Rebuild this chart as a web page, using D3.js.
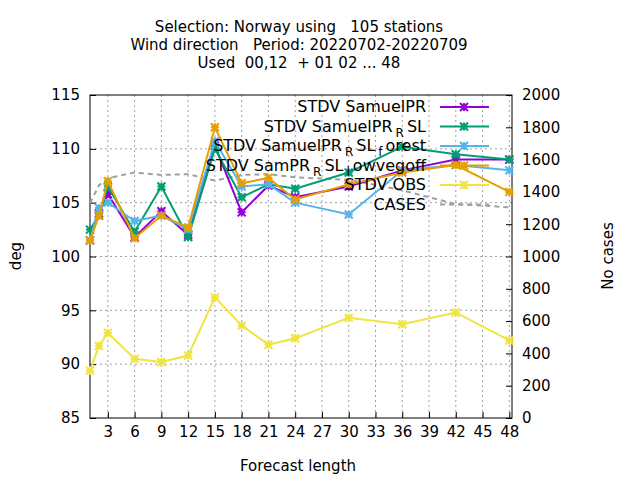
<!DOCTYPE html>
<html><head><meta charset="utf-8">
<script src="https://cdn.jsdelivr.net/npm/d3@7"></script>
<style>body{margin:0;background:#fff}text{font-family:"DejaVu Sans",sans-serif}</style>
</head><body><svg id="c" width="640" height="480"></svg>
<script>
const steps = [1, 2, 3, 6, 9, 12, 15, 18, 21, 24, 30, 36, 42, 48];
const samuelPR = [101.5, 104, 105.8, 101.8, 104.2, 102, 110.3, 104.1, 106.6, 105.5, 106.5, 108, 109, 109];
const samuelPRRSL = [102.5, 103.8, 106.5, 102.3, 106.5, 101.8, 110, 105.5, 106.7, 106.3, 107.8, 110.2, 109.5, 109];
const samuelPRRSLforest = [101.5, 104.5, 105, 103.3, 103.8, 102.5, 110.7, 106.5, 106.7, 105, 103.9, 108, 108.5, 108];
const samPRRSLlowvegoff = [101.5, 103.8, 107, 101.7, 103.8, 102.7, 112, 106.8, 107.3, 105.3, 106.7, 107.8, 108.5, 106];
const obs = [89.4, 91.7, 92.9, 90.5, 90.2, 90.8, 96.2, 93.6, 91.8, 92.4, 94.3, 93.7, 94.8, 92.2];
const cases = [1330, 1440, 1485, 1520, 1505, 1510, 1470, 1505, 1510, 1490, 1475, 1410, 1325, 1305];
const xTicks = [3, 6, 9, 12, 15, 18, 21, 24, 27, 30, 33, 36, 39, 42, 45, 48];

const svg = d3.select("#c");
const L = 90, R = 512, T = 95, B = 418;
const x = d3.scaleLinear().domain([1, 48.3]).range([L, R]);
const y = d3.scaleLinear().domain([85, 115]).range([B, T]);
const y2 = d3.scaleLinear().domain([0, 2000]).range([B, T]);

// grid
const grid = svg.append("g").attr("stroke", "#a0a0a0").attr("stroke-dasharray", "2,3").attr("stroke-width", 1);
xTicks.forEach(t => grid.append("line").attr("x1", x(t)).attr("x2", x(t)).attr("y1", T).attr("y2", B));
d3.range(90, 115, 5).forEach(t => grid.append("line").attr("x1", L).attr("x2", R).attr("y1", y(t)).attr("y2", y(t)));

const fs = 15;
svg.append("g").attr("transform", `translate(0,${B})`)
  .call(d3.axisBottom(x).tickValues(xTicks).tickSize(-6).tickPadding(8))
  .call(g => { g.select(".domain").remove(); g.selectAll("text").attr("font-size", fs).attr("fill", "#000"); });
svg.append("g").attr("transform", `translate(${L},0)`)
  .call(d3.axisLeft(y).ticks(6).tickSize(-6).tickPadding(10))
  .call(g => { g.select(".domain").remove(); g.selectAll("text").attr("font-size", fs).attr("fill", "#000"); });
svg.append("g").attr("transform", `translate(${R},0)`)
  .call(d3.axisRight(y2).ticks(10, "d").tickSize(-6).tickPadding(10))
  .call(g => { g.select(".domain").remove(); g.selectAll("text").attr("font-size", fs).attr("fill", "#000"); });
svg.append("rect").attr("x", L).attr("y", T).attr("width", R - L).attr("height", B - T)
  .attr("fill", "none").attr("stroke", "#000");

// cases
svg.append("path").datum(cases)
  .attr("d", d3.line().x((d, i) => x(steps[i])).y(d => y2(d)))
  .attr("fill", "none").attr("stroke", "#a0a0a0").attr("stroke-width", 2).attr("stroke-dasharray", "5,4");

const series = [
  { v: samuelPR, c: "#9400d3" },
  { v: samuelPRRSL, c: "#009e73" },
  { v: samuelPRRSLforest, c: "#56b4e9" },
  { v: samPRRSLlowvegoff, c: "#e69f00" },
  { v: obs, c: "#f0e442" }
];
function star(g, cx, cy, c) {
  const s = 4;
  g.append("path").attr("d", `M${cx-s},${cy}H${cx+s}M${cx},${cy-s}V${cy+s}M${cx-s},${cy-s}L${cx+s},${cy+s}M${cx-s},${cy+s}L${cx+s},${cy-s}`)
    .attr("stroke", c).attr("stroke-width", 2);
}
series.forEach(s => {
  svg.append("path").datum(s.v)
    .attr("d", d3.line().x((d, i) => x(steps[i])).y(d => y(d)))
    .attr("fill", "none").attr("stroke", s.c).attr("stroke-width", 2);
  const g = svg.append("g");
  s.v.forEach((d, i) => star(g, x(steps[i]), y(d), s.c));
});

// legend
const leg = svg.append("g").attr("font-size", 16);
const labels = [
  ["STDV SamuelPR"],
  ["STDV SamuelPR", "R", "SL"],
  ["STDV SamuelPR", "R", "SL", "f", "orest"],
  ["STDV SamPR", "R", "SL", "l", "owvegoff"],
  ["STDV OBS"],
  ["CASES"]
];
labels.forEach((parts, i) => {
  const ly = 112 + i * 19.5;
  const t = leg.append("text").attr("x", 426).attr("y", ly).attr("text-anchor", "end");
  parts.forEach((p, j) => {
    const ts = t.append("tspan").text(p);
    if (j % 2 === 1) ts.attr("font-size", 12).attr("dy", 5).attr("dx", 3);
    else if (j > 0) ts.attr("dy", -5).attr("dx", 3);
  });
  const ln = leg.append("line").attr("x1", 440).attr("x2", 489).attr("y1", ly - 5).attr("y2", ly - 5).attr("stroke-width", 2);
  if (i < 5) {
    ln.attr("stroke", series[i].c);
    star(leg, 464, ly - 5, series[i].c);
  } else {
    ln.attr("stroke", "#a0a0a0").attr("stroke-dasharray", "5,4");
  }
});

// titles
const tt = svg.append("g").attr("font-size", 15).attr("text-anchor", "middle");
["Selection: Norway using   105 stations", "Wind direction   Period: 20220702-20220709", "Used  00,12  + 01 02 ... 48"]
  .forEach((s, i) => tt.append("text").attr("x", 299).attr("y", 32 + i * 18).text(s).style("white-space", "pre"));
svg.append("text").attr("x", 298).attr("y", 471).attr("font-size", 15).attr("text-anchor", "middle").text("Forecast length");
svg.append("text").attr("transform", "translate(21,256) rotate(-90)").attr("font-size", 15).attr("text-anchor", "middle").text("deg");
svg.append("text").attr("transform", "translate(613,256) rotate(-90)").attr("font-size", 15).attr("text-anchor", "middle").text("No cases");
</script></body></html>
